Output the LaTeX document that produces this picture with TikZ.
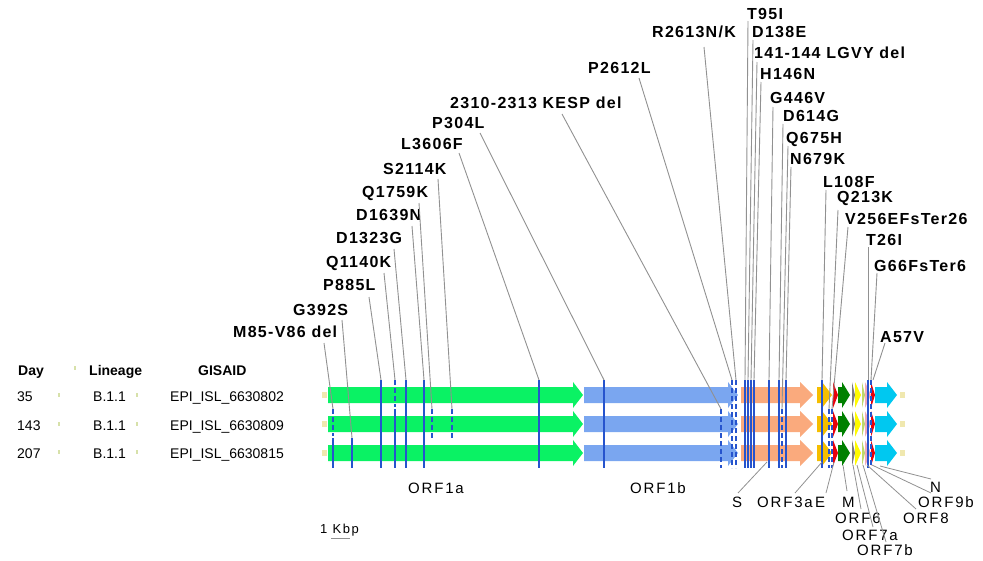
\documentclass[tikz,border=0pt]{standalone}
\usepackage{fontspec}
\setmainfont{Liberation Sans}
\newfontfamily\labfont[LetterSpace=8]{Liberation Sans}
\newfontfamily\genefont[LetterSpace=12]{Liberation Sans}
\definecolor{c1a}{RGB}{10,242,100}
\definecolor{c1b}{RGB}{122,166,240}
\definecolor{cS}{RGB}{250,170,125}
\definecolor{c3a}{RGB}{245,190,0}
\definecolor{cE}{RGB}{232,0,10}
\definecolor{cM}{RGB}{0,128,0}
\definecolor{c6}{RGB}{125,125,125}
\definecolor{c7a}{RGB}{255,250,0}
\definecolor{c7b}{RGB}{190,215,110}
\definecolor{c8}{RGB}{240,170,185}
\definecolor{cN}{RGB}{0,200,240}
\definecolor{cutr}{RGB}{240,232,175}
\definecolor{mutblue}{RGB}{38,84,205}
\definecolor{leadgray}{RGB}{145,145,145}
\definecolor{tickc}{RGB}{215,225,170}
\newcommand\garr[5]{%
  \fill[#4] (#1,#5-8) -- (#2-#3,#5-8) -- (#2-#3,#5-13) -- (#2,#5) -- (#2-#3,#5+13) -- (#2-#3,#5+8) -- (#1,#5+8) -- cycle;}
\newcommand\mutlab[8]{%
  \node[mlab] (#1) at (#2,#3) {#4};
  \coordinate (#1s) at (#5,#6);
  \coordinate (#1e) at (#7,#8);
  \draw[leader] (#1s) -- (#1e);}
\newcommand\genelab[8]{%
  \node[glab] (#1) at (#2,#3) {#4};
  \coordinate (#1s) at (#5,#6);
  \coordinate (#1e) at (#7,#8);
  \draw[gleader] (#1s) -- (#1e);}
\tikzset{
  mlab/.style={anchor=west, inner sep=0pt, font=\labfont\bfseries\fontsize{16}{16}\selectfont, text height=11.5pt, text depth=0pt},
  glab/.style={anchor=west, inner sep=0pt, font=\genefont\fontsize{15}{15}\selectfont, text height=10.7pt, text depth=0pt},
  tlab/.style={anchor=west, inner sep=0pt, font=\fontsize{14}{14}\selectfont, text height=10pt, text depth=0pt},
  thead/.style={tlab, font=\bfseries\fontsize{14}{14}\selectfont},
  leader/.style={draw=leadgray, line width=0.9pt},
  gleader/.style={draw=leadgray, line width=0.8pt},
  mut/.style={draw=mutblue, line width=2.9pt},
  mutd/.style={mut, dash pattern=on 5pt off 3pt},
  tick/.style={draw=tickc, line width=1.2pt},
}
\begin{document}
\begin{tikzpicture}[x=1pt,y=-1pt]
\useasboundingbox (0,0) rectangle (983,560);
% table
\node[thead] (hday) at (18,370) {Day};
\node[thead] (hlin) at (89,370) {Lineage};
\node[thead] (hgis) at (198,370) {GISAID};
\draw[tick] (75,366) -- (75,370);
\foreach \y/\d/\g [count=\i] in {396/35/6630802,425/143/6630809,453/207/6630815}{
  \node[tlab] (day\i) at (17,\y) {\d};
  \node[tlab] (lin\i) at (93,\y) {B.1.1};
  \node[tlab] (gis\i) at (170,\y) {EPI\_ISL\_\g};
  \draw[tick] (59,\y-3) -- (59,\y+1);
  \draw[tick] (137,\y-3) -- (137,\y+1);
}
% genes
\foreach \y in {395,424,453}{
  \fill[cutr] (322,\y-3) rectangle (327,\y+3);
  \garr{328}{583}{10}{c1a}{\y}
  \garr{584}{738}{10}{c1b}{\y}
  \garr{741}{813}{13}{cS}{\y}
  \garr{817}{832}{10}{c3a}{\y}
  \garr{833}{838}{5}{cE}{\y}
  \garr{838}{850}{8}{cM}{\y}
  \garr{852}{855}{3}{c6}{\y}
  \garr{855}{861}{6}{c7a}{\y}
  \garr{862}{865}{3}{c7b}{\y}
  \garr{865}{871}{6}{c8}{\y}
  \garr{871}{875}{4}{cE}{\y}
  \garr{875}{897}{10}{cN}{\y}
  \fill[cutr] (900,\y-3) rectangle (905,\y+3);
}
% mutation marks
\foreach \x in {381,406,424,539,604,745,748,751,754,769,779,786,822,868}{
  \draw[mut] (\x,380) -- (\x,468);
}
\draw[mutd] (333,409) -- (333,436);
\draw[mut] (333,438) -- (333,468);
\draw[mut] (352,438) -- (352,468);
\draw[mutd] (395,380) -- (395,407);
\draw[mut] (395,409) -- (395,468);
\draw[mutd] (432,409) -- (432,438);
\draw[mutd] (452,409) -- (452,438);
\draw[mutd] (721,409) -- (721,468);
\draw[mutd] (732,380) -- (732,468);
\draw[mutd] (736,380) -- (736,468);
\draw[mutd] (782,409) -- (782,468);
\draw[mutd] (829,409) -- (829,468);
\draw[mutd] (832,409) -- (832,468);
\draw[mutd] (871,380) -- (871,468);
% mutation labels
\mutlab{m1}{233}{332}{M85-V86 del}{324}{343}{333}{409}
\mutlab{m2}{293}{310}{G392S}{342}{320}{352}{438}
\mutlab{m3}{323}{285}{P885L}{369}{297}{381}{380}
\mutlab{m4}{326}{262}{Q1140K}{384}{273}{395}{380}
\mutlab{m5}{336}{238}{D1323G}{394}{249}{406}{380}
\mutlab{m6}{356}{215}{D1639N}{412}{226}{424}{380}
\mutlab{m7}{362}{192}{Q1759K}{419}{203}{432}{409}
\mutlab{m8}{383}{169}{S2114K}{438}{179}{452}{409}
\mutlab{m9}{401}{144}{L3606F}{459}{153}{539}{380}
\mutlab{m10}{432}{123}{P304L}{480}{133}{604}{380}
\mutlab{m11}{450}{103}{2310-2313 KESP del}{562}{114}{721}{409}
\mutlab{m12}{588}{68}{P2612L}{639}{78}{732}{380}
\mutlab{m13}{652}{32}{R2613N/K}{704}{47}{736}{380}
\mutlab{m14}{747}{14}{T95I}{748}{21}{745}{380}
\mutlab{m15}{752}{32}{D138E}{753}{40}{748}{380}
\mutlab{m16}{754}{53}{141-144 LGVY del}{757}{62}{751}{380}
\mutlab{m17}{760}{74}{H146N}{761}{82}{754}{380}
\mutlab{m18}{770}{98}{G446V}{773}{107}{769}{380}
\mutlab{m19}{783}{116}{D614G}{783}{124}{779}{380}
\mutlab{m20}{786}{138}{Q675H}{788}{146}{782}{409}
\mutlab{m21}{790}{159}{N679K}{791}{167}{786}{380}
\mutlab{m22}{823}{182}{L108F}{826}{190}{822}{380}
\mutlab{m23}{837}{197}{Q213K}{838}{210}{829}{409}
\mutlab{m24}{845}{219}{V256EFsTer26}{848}{227}{832}{409}
\mutlab{m25}{866}{240}{T26I}{868}{247}{868}{380}
\mutlab{m26}{874}{266}{G66FsTer6}{877}{273}{871}{380}
\mutlab{m27}{880}{337}{A57V}{885}{343}{873}{380}
% gene labels
\node[glab] (g1a) at (408,488) {ORF1a};
\node[glab] (g1b) at (630,488) {ORF1b};
\genelab{gS}{732}{502}{S}{738}{493}{767}{462}
\genelab{g3a}{757}{502}{ORF3a}{795}{493}{822}{462}
\genelab{gE}{815}{502}{E}{826}{493}{834}{462}
\genelab{gM}{842}{502}{M}{847}{491}{843}{465}
\genelab{g6}{835}{518}{ORF6}{861}{509}{853}{465}
\genelab{g7a}{842}{535}{ORF7a}{873}{527}{857}{465}
\genelab{g7b}{857}{550}{ORF7b}{886}{542}{863}{465}
\genelab{g8}{903}{518}{ORF8}{916}{509}{867}{465}
\genelab{g9b}{918}{502}{ORF9b}{931}{493}{872}{465}
\genelab{gN}{930}{487}{N}{931}{479}{880}{466}
% scale bar
\node[tlab, font=\genefont\fontsize{13}{13}\selectfont] (kbp) at (320,528) {1 Kbp};
\coordinate (sb1) at (331,538);
\coordinate (sb2) at (350,538);
\draw[leadgray, line width=0.8pt] (sb1) -- (sb2);
\end{tikzpicture}
\end{document}
